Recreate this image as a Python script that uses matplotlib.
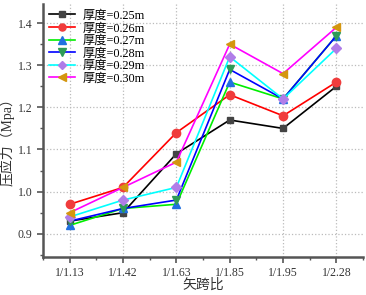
import numpy as np
import matplotlib.pyplot as plt
from matplotlib.ticker import MultipleLocator

plt.rcParams['font.family'] = ['Liberation Serif', 'Noto Sans CJK SC']
plt.rcParams['axes.unicode_minus'] = False

categories = ['1/1.13', '1/1.42', '1/1.63', '1/1.85', '1/1.95', '1/2.28']
labels = ['厚度=0.25m', '厚度=0.26m', '厚度=0.27m', '厚度=0.28m', '厚度=0.29m', '厚度=0.30m']

t025 = [0.93, 0.95, 1.09, 1.17, 1.15, 1.25]
t026 = [0.97, 1.01, 1.14, 1.23, 1.18, 1.26]
t027 = [0.92, 0.96, 0.97, 1.26, 1.22, 1.37]
t028 = [0.93, 0.96, 0.98, 1.29, 1.22, 1.37]
t029 = [0.94, 0.98, 1.01, 1.32, 1.22, 1.34]
t030 = [0.95, 1.01, 1.07, 1.35, 1.28, 1.39]

series = [t025, t026, t027, t028, t029, t030]
line_colors = ['black', 'red', '#00ee00', 'blue', 'cyan', 'magenta']
marker_colors = ['#444444', '#f03c3c', '#2070e0', '#2e9b57', '#b07de8', '#d4960f']
markers = ['s', 'o', '^', 'v', 'D', '<']
msizes = [5, 6, 6, 6, 5, 6]

fig = plt.figure(figsize=(3.66, 2.95), dpi=100)
ax = fig.add_axes([0.1175, 0.129, 0.8745, 0.857])

x = np.arange(len(categories))
for ys, lab, lc, mc, m, ms in zip(series, labels, line_colors, marker_colors, markers, msizes):
    ax.plot(x, ys, color=lc, lw=1.2, marker=m, markersize=ms,
            markerfacecolor=mc, markeredgecolor=mc, label=lab)

ax.set_xlim(-0.5, 5.5)
ax.set_ylim(0.845, 1.445)
ax.set_xticks(x)
ax.set_xticklabels(categories)
ax.xaxis.set_minor_locator(MultipleLocator(0.5))
ax.yaxis.set_major_locator(MultipleLocator(0.1))
ax.yaxis.set_minor_locator(MultipleLocator(0.05))
ax.yaxis.set_major_formatter(plt.FuncFormatter(lambda v, p: f'{v:.1f}'))

for s in ['top', 'right']:
    ax.spines[s].set_visible(False)
for s in ['left', 'bottom']:
    ax.spines[s].set_linewidth(1.8)
    ax.spines[s].set_color('#555555')

ax.tick_params(which='both', direction='out', colors='#555555', labelcolor='#333333', labelsize=8.5)
ax.tick_params(which='major', length=4, width=1.2)
ax.tick_params(which='minor', length=2.5, width=1.0)
ax.tick_params(axis='x', pad=3)
ax.grid(True, which='major', color='#bbbbbb', linestyle=':', linewidth=0.9)
ax.set_axisbelow(True)

ax.set_xlabel('矢跨比', fontsize=10, color='#333333', labelpad=0)
ax.set_ylabel('压应力（Mpa）', fontsize=10, color='#333333')
ax.yaxis.set_label_coords(-0.088, 0.47)

ax.legend(loc='upper left', frameon=False, fontsize=8.8, handlelength=2.2,
          labelspacing=0.05, borderaxespad=0.05, handletextpad=0.6,
          markerscale=0.85)

fig.savefig('out.png', dpi=100)
